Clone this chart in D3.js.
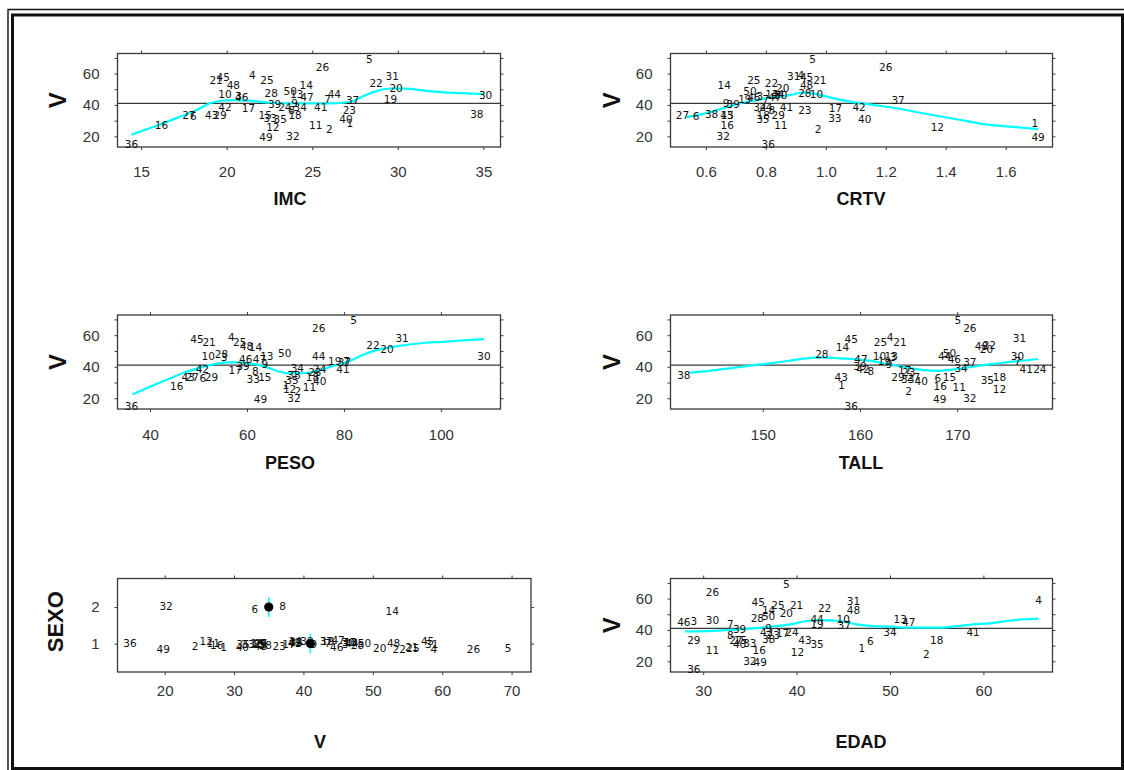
<!DOCTYPE html>
<html><head><meta charset="utf-8">
<script src="https://cdn.jsdelivr.net/npm/d3@7"></script>
<style>body{margin:0;background:#fff}svg{display:block}</style>
</head><body><svg id="c" width="1124" height="770"></svg>
<script>
// ---------------- data ----------------
const ids  = [1,2,3,4,5,6,7,8,9,10,11,12,13,14,15,16,17,18,19,20,21,22,23,24,25,26,27,28,29,30,31,32,33,34,35,36,37,38,39,40,41,42,43,44,45,46,47,48,49,50];
const V    = [28.5,24.4,46,58.8,69.5,33,43.5,37,41.5,46.8, 27,26,46.8,52.8,33.5,27.5,37.9,33.3,43.5,51, 55.6,53.8,36.5,38.8,55.8,64.5,33.8,47.8,33.8,46.5, 58.5,20.2,32,39,31.3,15,43.3,34.5,40.5,31.2, 38.7,38.8,33.8,47,57.9,44.8,45,53,19.8,48.8];
const IMC  = [27.2,26.0,20.7,21.5,28.34,18.05,25.9,23.8,23.97,19.9, 25.2,22.7,24.1,24.65,22.25,16.19,21.27,24.0,29.57,29.9, 19.38,28.73,27.17,23.4,22.35,25.6,17.79,22.6,19.61,35.13, 29.67,23.87,22.54,24.3,23.13,14.44,27.36,34.62,22.8,26.97, 25.5,19.9,19.12,26.29,19.8,20.88,24.69,20.39,22.3,23.71];
const CRTV = [1.697,0.974,0.78,0.917,0.956,0.567,0.80,0.82,0.667,0.969, 0.85,1.372,0.82,0.661,0.671,0.671,1.032,0.791,0.73,0.856, 0.98,0.819,0.93,0.80,0.76,1.2,0.522,0.93,0.841,0.85, 0.893,0.658,1.03,0.78,0.79,0.808,1.241,0.619,0.691,1.13, 0.869,1.111,0.67,0.84,0.936,0.76,0.83,0.936,1.708,0.747];
const PESO = [68.0,70.5,55.3,56.8,82,50.9,80.5,61.75,63.7,52.0, 72.9,68.8,64.1,61.75,63.7,45.5,57.6,73.5,78.1,88.9, 52.2,86,74,75,58.5,74.8,48.7,54.75,52.7,108.9, 92,69.7,61.3,70.4,69.3,36.2,80.1,69.7,59.2,75, 79.8,50.8,47.9,74.8,49.7,59.75,62.6,59.9,62.8,67.8];
const TALL = [158.1,165,163.4,163.1,170.06,168,176.2,161.1,163.0,162, 170.2,174.35,163.2,158.2,169.2,168.25,164.6,174.35,162.5,173, 164.1,173.3,165,178.5,162.1,171.3,165.5,156.07,163.9,176.2, 176.4,171.3,164.9,170.4,173.1,159.09,171.3,141.87,160,166.3, 177.1,160.3,158.07,168.7,159.09,169.7,160.1,172.5,168.2,169.2];
const SEXO = [1,1,1,1,1,2,1,2,1,1, 1,1,1,2,1,1,1,1,1,1, 1,1,1,1,1,1,1,1,1,1, 1,2,1,1,1,1,1,1,1,1, 1,1,1,1,1,1,1,1,1,1];
const sexoJitter = [-0.1,-0.06,0,-0.15,-0.12,-0.05,0.02,0.02,0,0.05, 0.03,0.06,0.04,-0.11,0,-0.05,0,0.02,0.06,-0.11, -0.1,-0.15,-0.06,0.07,-0.11,-0.15,0.03,-0.04,0,0.05, 0,0.02,0,0.04,-0.02,0.03,0.07,-0.05,0.06,-0.08, 0.03,0.05,-0.06,0.02,0.07,-0.1,0.09,0.03,-0.15,0.03];
const EDAD = [47,53.9,29.0,65.9,38.9,47.9,32.9,32.9,37,45, 31,40.1,51.1,37,34,36,38.5,55,42.2,38.9, 40,43,37.5,39.5,38,31,33.5,35.8,29,31, 46.1,35,35,50,42.2,29,45.1,37,33.9,33.9, 58.9,36.8,40.9,42.2,35.9,27.93,52,46.1,36.1,37];

// smooth (lowess) curves
const imcSmoothX  = [14.44,15.9,17.07,18.25,19.02,19.61,20.39,21.37,22.54,23.71,24.88,26.05,26.83,27.42,28.0,28.79,29.57,30.16,30.74,31.72,32.69,33.67,35.03];
const imcSmoothV  = [21.0,26.7,31.6,36.8,41.05,42.5,43.1,42.7,41.4,41.05,41.05,41.05,41.4,42.7,45.7,49,50.5,50.5,50.2,49,48,47.6,46.9];
const crtvSmoothX = [0.536,0.591,0.658,0.713,0.769,0.824,0.88,0.924,0.969,1.013,1.08,1.158,1.236,1.324,1.436,1.547,1.636,1.708];
const crtvSmoothV = [32.2,34.3,37.9,41.05,43.1,44.85,46.3,47.8,46.9,44.85,42.1,40.0,37.9,34.7,30.9,27.3,25.9,24.6];
const pesoSmoothX = [36.44,40,44.1,47.55,50.3,53.0,55.8,58.5,60.6,62.6,64.7,66.7,68.8,70.9,73.6,76.4,78.4,81.2,83.9,86.7,90.1,93.5,96.9,100.3,104.5,108.9];
const pesoSmoothV = [22.5,27.3,32.6,36.8,39.3,41.5,42.8,42.8,42.1,41.05,39.0,36.8,35.8,35.8,36.8,39.0,41.05,43.6,47.4,50.5,52.6,54.1,55.2,55.8,56.7,57.5];
const tallSmoothX = [142.46,144.5,146.6,148.6,150.7,152.7,154.5,156.2,157.9,159.6,161.3,163.0,164.75,166.5,168.2,169.9,171.6,173.3,175.0,176.7,178.3];
const tallSmoothV = [36.2,37.4,39.0,40.6,42.1,43.8,45.3,45.9,45.3,44.7,43.6,41.5,39.6,37.9,37.4,38.5,40.0,41.5,42.8,43.8,44.9];
const edadSmoothX = [28.04,30.36,32.86,35.0,37.15,39.3,41.1,42.86,44.65,46.44,48.2,50.0,51.8,53.6,55.4,57.2,58.9,60.7,62.5,64.3,65.9];
const edadSmoothV = [39.0,39.3,40.0,40.9,42.1,43.6,45.7,46.3,45.7,43.6,42.5,42.1,41.5,41.5,41.5,42.5,43.6,44.2,45.7,46.7,47.2];

// tick values
const vTickMarks  = [20,30,40,50,60,70];
const vTickLabels = [20,40,60];
const imcTicks  = [15,20,25,30,35];
const crtvTicks = [0.6,0.8,1.0,1.2,1.4,1.6];
const pesoTicks = [40,60,80,100];
const tallTicks = [150,160,170];
const vxTicks   = [20,30,40,50,60,70];
const edadTicks = [30,40,50,60];
const sexoTicks = [1,2];

// ---------------- drawing ----------------
const svg = d3.select('#c');
const SANS = "'Liberation Sans', Arial, sans-serif";
const LBL  = "'DejaVu Sans', sans-serif";
const INK = '#3a3a3a';

// window frame
svg.append('path').attr('d','M8,770 V9.5 H1124').attr('fill','none').attr('stroke','#111').attr('stroke-width',1.4);
svg.append('rect').attr('x',12.5).attr('y',15).attr('width',1110).attr('height',753.5)
  .attr('fill','none').attr('stroke','#111').attr('stroke-width',3);

const vDomain = [13.2, 72.8];
const rows = [
  {top:53.5,  h:93.5, lab:25, title:199},
  {top:315,   h:94,   lab:26, title:463},
  {top:578.5, h:93.5, lab:19, title:742}
];
const cols = [{l:117.5, r:500.5, tx:290}, {l:670.5, r:1052.5, tx:861}];

const panels = [
  {row:0,col:0, xs:IMC,  dom:[13.62,36.0], ticks:imcTicks,  fmt:d3.format('d'),   title:'IMC',  sx:imcSmoothX,  sv:imcSmoothV},
  {row:0,col:1, xs:CRTV, dom:[0.482,1.756], ticks:crtvTicks, fmt:d3.format('.1f'), title:'CRTV', sx:crtvSmoothX, sv:crtvSmoothV},
  {row:1,col:0, xs:PESO, dom:[33.3,112.3], ticks:pesoTicks, fmt:d3.format('d'),   title:'PESO', sx:pesoSmoothX, sv:pesoSmoothV},
  {row:1,col:1, xs:TALL, dom:[140.5,179.8], ticks:tallTicks, fmt:d3.format('d'),   title:'TALL', sx:tallSmoothX, sv:tallSmoothV},
  {row:2,col:1, xs:EDAD, dom:[26.5,67.4],  ticks:edadTicks, fmt:d3.format('d'),   title:'EDAD', sx:edadSmoothX, sv:edadSmoothV}
];

const vMean = d3.mean(V);

function frame(g, x, y, xTicks, xFmt, yMarks, yLabels, r) {
  const w = x.range()[1]-x.range()[0], h = y.range()[0]-y.range()[1];
  const style = sel => {
    sel.select('.domain').remove();
    sel.selectAll('line').attr('stroke',INK).attr('stroke-width',1);
    sel.selectAll('text').attr('font-family',SANS).attr('font-size',15).attr('fill','#333');
  };
  g.append('g').attr('transform',`translate(0,${y.range()[0]})`)
    .call(d3.axisBottom(x).tickValues(xTicks).tickSize(3).tickPadding(r.lab-8.3).tickFormat(xFmt)).call(style);
  g.append('g').attr('transform',`translate(0,${y.range()[1]})`)
    .call(d3.axisTop(x).tickValues(xTicks).tickSize(3).tickFormat('')).call(style);
  g.append('g').attr('transform',`translate(${x.range()[0]},0)`)
    .call(d3.axisLeft(y).tickValues(yMarks).tickSize(3).tickPadding(15)
      .tickFormat(d => yLabels.includes(d) ? d : '')).call(style);
  g.append('g').attr('transform',`translate(${x.range()[1]},0)`)
    .call(d3.axisRight(y).tickValues(yMarks).tickSize(3).tickFormat('')).call(style);
  g.append('rect').attr('x',x.range()[0]).attr('y',y.range()[1]).attr('width',w).attr('height',h)
    .attr('fill','none').attr('stroke',INK).attr('stroke-width',1.3);
}

function yTitle(g, text, cx, cy, size) {
  g.append('text').attr('transform',`translate(${cx},${cy}) rotate(-90)`)
    .attr('text-anchor','middle').attr('dominant-baseline','central')
    .attr('font-family',SANS).attr('font-weight','bold').attr('font-size',size).attr('fill','#111').text(text);
}
function xTitle(g, text, cx, cy) {
  g.append('text').attr('x',cx).attr('y',cy).attr('text-anchor','middle').attr('dominant-baseline','central')
    .attr('font-family',SANS).attr('font-weight','bold').attr('font-size',18).attr('fill','#111').text(text);
}

panels.forEach(p => {
  const r = rows[p.row], c = cols[p.col];
  const x = d3.scaleLinear().domain(p.dom).range([c.l, c.r]);
  const y = d3.scaleLinear().domain(vDomain).range([r.top + r.h, r.top]);
  const g = svg.append('g');
  frame(g, x, y, p.ticks, p.fmt, vTickMarks, vTickLabels, r);
  // reference line at mean V
  g.append('line').attr('x1',c.l).attr('x2',c.r).attr('y1',y(vMean)).attr('y2',y(vMean))
    .attr('stroke',INK).attr('stroke-width',1.3);
  // smooth
  const pts = p.sx.map((d,i)=>[d,p.sv[i]]);
  g.append('path').attr('d', d3.line().x(d=>x(d[0])).y(d=>y(d[1])).curve(d3.curveMonotoneX)(pts))
    .attr('fill','none').attr('stroke','#00ffff').attr('stroke-width',2.2);
  // labels
  g.selectAll('text.pt').data(ids).join('text').attr('class','pt')
    .attr('x',(d,i)=>x(p.xs[i])).attr('y',(d,i)=>y(V[i]))
    .attr('text-anchor','middle').attr('dominant-baseline','central')
    .attr('font-family',LBL).attr('font-size',10.5).attr('fill','#111').text(d=>d);
  yTitle(g, 'V', p.col===0 ? 57 : 611, r.top + r.h/2, 24);
  xTitle(g, p.title, c.tx, r.title);
});

// SEXO vs V panel
{
  const r = rows[2], c = {l:117.5, r:531};
  const x = d3.scaleLinear().domain(vDomain).range([c.l, c.r]);
  const y = d3.scaleLinear().domain([0.224, 2.78]).range([r.top + r.h, r.top]);
  const g = svg.append('g');
  frame(g, x, y, vxTicks, d3.format('d'), sexoTicks, sexoTicks, r);
  // group medians
  const groups = d3.groups(ids.map((d,i)=>({s:SEXO[i], v:V[i]})), d=>d.s);
  groups.forEach(([s, arr]) => {
    const m = d3.median(arr, d=>d.v);
    g.append('line').attr('x1',x(m)).attr('x2',x(m)).attr('y1',y(s-0.27)).attr('y2',y(s+0.27))
      .attr('stroke','#00ffff').attr('stroke-width',1.6);
  });
  g.selectAll('text.pt').data(ids).join('text').attr('class','pt')
    .attr('x',(d,i)=>x(V[i])).attr('y',(d,i)=>y(SEXO[i]+sexoJitter[i]))
    .attr('text-anchor','middle').attr('dominant-baseline','central')
    .attr('font-family',LBL).attr('font-size',10.5).attr('fill','#111').text(d=>d);
  groups.forEach(([s, arr]) => {
    const m = d3.median(arr, d=>d.v);
    g.append('circle').attr('cx',x(m)).attr('cy',y(s)).attr('r',4.6).attr('fill','#000');
  });
  yTitle(g, 'SEXO', 55, 621.7, 22);
  xTitle(g, 'V', 320, r.title);
}
</script></body></html>
